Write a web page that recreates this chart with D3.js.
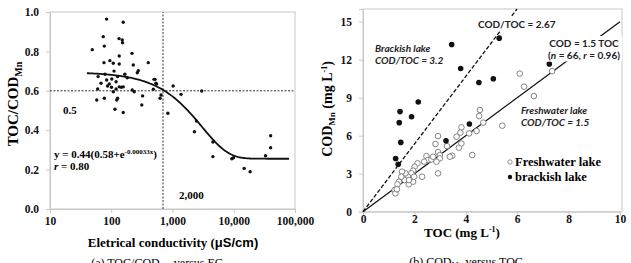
<!DOCTYPE html>
<html>
<head>
<meta charset="utf-8">
<script src="https://cdn.jsdelivr.net/npm/d3@7"></script>
<style>
  body { margin: 0; background: #fff; }
  svg { display: block; }
  .serif { font-family: "Liberation Serif", "DejaVu Serif", serif; font-weight: bold; }
  .sans { font-family: Lato, "Liberation Sans", sans-serif; font-weight: bold; }
</style>
</head>
<body>
<svg id="chart" width="631" height="263"></svg>
<script>
// (a) electrical conductivity vs TOC/COD ratio
var ecValues = [84, 157, 74, 134, 151, 153, 77, 49, 218, 135, 95, 76, 108, 135, 402, 229, 276, 266,
    111, 61, 79, 167, 182, 127, 84, 102, 68, 93, 120, 87, 101, 135, 146, 157, 60, 120, 108, 77,
    58, 127, 123, 220, 237, 325, 500, 536, 115, 157, 315, 487, 550, 518, 650, 626, 1025, 1380,
    3000, 840, 2460, 2280, 4570, 4570, 9300, 9900, 14800, 18500, 33000, 40000, 40000];
var ratioValues = [0.964, 0.948, 0.875, 0.865, 0.858, 0.844, 0.827, 0.809, 0.79, 0.777, 0.753, 0.743,
    0.74, 0.736, 0.743, 0.731, 0.702, 0.692, 0.70, 0.672, 0.684, 0.684, 0.666, 0.672, 0.655, 0.66,
    0.638, 0.635, 0.646, 0.624, 0.618, 0.62, 0.618, 0.62, 0.609, 0.609, 0.595, 0.562, 0.553, 0.562,
    0.553, 0.604, 0.595, 0.574, 0.658, 0.638, 0.506, 0.49, 0.528, 0.608, 0.634, 0.658, 0.579, 0.562,
    0.624, 0.582, 0.599, 0.486, 0.447, 0.392, 0.34, 0.266, 0.255, 0.26, 0.206, 0.189, 0.27, 0.311, 0.372];
var ecTicks = [10, 100, 1000, 10000, 100000];
var ecTickLabels = ["10", "100", "1,000", "10,000", "100,000"];
var ratioTicks = [0, 0.2, 0.4, 0.6, 0.8, 1.0];
// fitted curve y = a(b + e^(-kx)) as printed on the chart
var fitA = 0.44, fitB = 0.58, fitK = 0.00033;
var fitRange = [40, 80000];
var ratioCut = 0.6, ecCut = 700;

// (b) TOC vs COD
var freshTOC = [6.1, 6.27, 7.36, 6.65, 5.42, 4.55, 4.52, 4.68, 4.42, 4.13, 3.83, 3.79, 3.64, 3.73, 3.83,
    3.47, 3.38, 4.25, 3.27, 2.92, 2.82, 2.92, 2.99, 2.99, 2.86, 2.92, 2.47, 2.53, 2.38, 2.3, 2.12,
    2.01, 1.95, 1.88, 1.75, 1.65, 1.62, 1.52, 1.49, 1.4, 1.34, 1.78, 1.95, 1.79, 1.99, 1.23, 1.26,
    2.66, 2.73, 1.32];
var freshCOD = [10.9, 9.87, 11.1, 9.13, 6.79, 8.03, 7.55, 7.03, 6.37, 6.18, 6.66, 6.24, 5.92, 5.05, 5.39,
    4.42, 4.34, 4.47, 5.18, 5.97, 5.34, 4.71, 4.47, 4.21, 3.95, 3.03, 4.39, 4.08, 3.95, 2.76, 3.82,
    3.55, 3.24, 3.03, 2.76, 3.03, 2.5, 3.16, 2.76, 2.37, 2.16, 2.16, 2.37, 2.5, 2.76, 1.71, 1.45,
    4.13, 4.34, 1.77];
var brackTOC = [1.27, 1.37, 1.44, 1.41, 1.47, 1.89, 2.15, 3.23, 3.45, 3.8, 4.14, 4.51, 5.07, 5.3, 7.25];
var brackCOD = [4.2, 3.74, 7.9, 7.03, 5.47, 7.5, 8.66, 5.6, 13.2, 11.3, 6.92, 10.2, 10.5, 13.7, 11.66];
var tocTicks = [0, 2, 4, 6, 8, 10];
var codTicks = [0, 3, 6, 9, 12, 15];
var brackSlope = 2.67, freshSlope = 1.5;

var svg = d3.select("#chart");
var frameColor = "#c8c8c8";
var tickFont = 11.5;

// ---------- panel (a) ----------
var xA = d3.scaleLog().domain([10, 100000]).range([50, 295]);
var yA = d3.scaleLinear().domain([0, 1]).range([209, 12]);

var gA = svg.append("g");
gA.append("rect")
    .attr("x", xA.range()[0]).attr("y", yA.range()[1])
    .attr("width", xA.range()[1] - xA.range()[0])
    .attr("height", yA.range()[0] - yA.range()[1])
    .attr("fill", "none").attr("stroke", frameColor);

gA.append("g")
    .attr("transform", "translate(0," + yA.range()[0] + ")")
    .call(d3.axisBottom(xA).tickValues(ecTicks).tickSize(4)
        .tickFormat((d, i) => ecTickLabels[i]))
    .call(g => g.select(".domain").attr("stroke", frameColor))
    .call(g => g.selectAll("line").attr("stroke", frameColor))
    .call(g => g.selectAll("text").attr("class", "serif").attr("font-size", tickFont)
        .attr("fill", "#111").attr("y", 8).attr("dy", "0.71em"));

gA.append("g")
    .attr("transform", "translate(" + xA.range()[0] + ",0)")
    .call(d3.axisLeft(yA).tickValues(ratioTicks).tickSize(4).tickFormat(d3.format(".1f")))
    .call(g => g.select(".domain").attr("stroke", frameColor))
    .call(g => g.selectAll("line").attr("stroke", frameColor))
    .call(g => g.selectAll("text").attr("class", "serif").attr("font-size", tickFont)
        .attr("fill", "#111").attr("x", -11));

// dotted guides
gA.append("line")
    .attr("x1", xA.range()[0]).attr("x2", xA.range()[1])
    .attr("y1", yA(ratioCut)).attr("y2", yA(ratioCut))
    .attr("stroke", "#333").attr("stroke-width", 1).attr("stroke-dasharray", "2,1.5");
gA.append("line")
    .attr("x1", xA(ecCut)).attr("x2", xA(ecCut))
    .attr("y1", yA(0)).attr("y2", yA(1))
    .attr("stroke", "#333").attr("stroke-width", 1).attr("stroke-dasharray", "2,1.5");

// fitted curve
var fitPts = d3.range(0, 201).map(function (i) {
    var x = Math.pow(10, Math.log10(fitRange[0]) + i / 200 * (Math.log10(fitRange[1]) - Math.log10(fitRange[0])));
    return [x, fitA * (fitB + Math.exp(-fitK * x))];
});
gA.append("path")
    .datum(fitPts)
    .attr("d", d3.line().x(d => xA(d[0])).y(d => yA(d[1])))
    .attr("fill", "none").attr("stroke", "#111").attr("stroke-width", 1.8);

gA.selectAll("circle.pt")
    .data(ecValues.map((d, i) => [d, ratioValues[i]]))
    .enter().append("circle")
    .attr("class", "pt")
    .attr("cx", d => xA(d[0])).attr("cy", d => yA(d[1]))
    .attr("r", 1.7).attr("fill", "#111");

gA.append("text").attr("class", "serif").attr("font-size", 11)
    .attr("x", 63).attr("y", 114).text("0.5");
gA.append("text").attr("class", "serif").attr("font-size", 11)
    .attr("x", 179).attr("y", 199).text("2,000");

var eq = gA.append("text").attr("class", "serif").attr("font-size", 11)
    .attr("x", 54).attr("y", 158);
eq.append("tspan").text("y = 0.44(0.58+e");
eq.append("tspan").attr("font-size", 7).attr("dy", -4).text("-0.00033x");
eq.append("tspan").attr("dy", 4).text(")");
var rA = gA.append("text").attr("class", "serif").attr("font-size", 11)
    .attr("x", 54).attr("y", 170);
rA.append("tspan").attr("font-style", "italic").text("r");
rA.append("tspan").text(" = 0.80");

var ytA = gA.append("text").attr("class", "serif").attr("font-size", 15)
    .attr("text-anchor", "middle")
    .attr("transform", "translate(18,104) rotate(-90)");
ytA.append("tspan").text("TOC/COD");
ytA.append("tspan").attr("font-size", 10).attr("dy", 4).text("Mn");

var xtA = gA.append("text").attr("class", "serif").attr("font-size", 13)
    .attr("text-anchor", "middle").attr("x", 173).attr("y", 247);
xtA.append("tspan").text("Eletrical conductivity (");
xtA.append("tspan").attr("font-family", "'Liberation Sans', Arial, sans-serif").text("μS/cm)");

var capA = gA.append("text").attr("font-family", "'Liberation Serif', serif").attr("font-size", 12)
    .attr("text-anchor", "middle").attr("x", 157).attr("y", 267);
capA.append("tspan").text("(a)  TOC/COD");
capA.append("tspan").attr("font-size", 8).attr("dy", 2).text("Mn");
capA.append("tspan").attr("dy", -2).text("  versus  EC");

// ---------- panel (b) ----------
var xB = d3.scaleLinear().domain([0, 10]).range([363, 620]);
var yB = d3.scaleLinear().domain([0, 16]).range([211.7, 9]);

var gB = svg.append("g");
gB.append("rect")
    .attr("x", xB.range()[0]).attr("y", yB.range()[1])
    .attr("width", xB.range()[1] - xB.range()[0] + 2)
    .attr("height", yB.range()[0] - yB.range()[1])
    .attr("fill", "none").attr("stroke", frameColor);

gB.append("g")
    .attr("transform", "translate(0," + yB.range()[0] + ")")
    .call(d3.axisBottom(xB).tickValues(tocTicks).tickSize(4))
    .call(g => g.select(".domain").attr("stroke", frameColor))
    .call(g => g.selectAll("line").attr("stroke", frameColor))
    .call(g => g.selectAll("text").attr("class", "serif").attr("font-size", tickFont)
        .attr("fill", "#111").attr("y", 3).attr("dy", "0.71em"));

gB.append("g")
    .attr("transform", "translate(" + xB.range()[0] + ",0)")
    .call(d3.axisLeft(yB).tickValues(codTicks).tickSize(4))
    .call(g => g.select(".domain").attr("stroke", frameColor))
    .call(g => g.selectAll("line").attr("stroke", frameColor))
    .call(g => g.selectAll("text").attr("class", "serif").attr("font-size", tickFont)
        .attr("fill", "#111").attr("x", -11));

// ratio lines
gB.append("line")
    .attr("x1", xB(0)).attr("y1", yB(0))
    .attr("x2", xB(yB.domain()[1] / brackSlope)).attr("y2", yB(yB.domain()[1]))
    .attr("stroke", "#111").attr("stroke-width", 1.3).attr("stroke-dasharray", "4,2");
gB.append("line")
    .attr("x1", xB(0)).attr("y1", yB(0))
    .attr("x2", xB(10)).attr("y2", yB(10 * freshSlope))
    .attr("stroke", "#111").attr("stroke-width", 1.3);

gB.selectAll("circle.fresh")
    .data(freshTOC.map((d, i) => [d, freshCOD[i]]))
    .enter().append("circle")
    .attr("class", "fresh")
    .attr("cx", d => xB(d[0])).attr("cy", d => yB(d[1]))
    .attr("r", 2.8).attr("fill", "#fff").attr("stroke", "#777").attr("stroke-width", 0.9);

gB.selectAll("circle.brack")
    .data(brackTOC.map((d, i) => [d, brackCOD[i]]))
    .enter().append("circle")
    .attr("class", "brack")
    .attr("cx", d => xB(d[0])).attr("cy", d => yB(d[1]))
    .attr("r", 2.8).attr("fill", "#111");

// annotations (text boxes with white fill hide the lines behind them)
var note = function (x, y, lines, anchor, boxed) {
    var g = gB.append("g");
    var texts = lines.map(function (parts, li) {
        var t = g.append("text").attr("class", "sans").attr("font-size", 10)
            .attr("fill", "#222").attr("x", x).attr("y", y + li * 11.5)
            .attr("text-anchor", anchor || "start");
        parts.forEach(function (p) {
            t.append("tspan").attr("font-style", p[1] ? "italic" : null).text(p[0]);
        });
        return t;
    });
    if (boxed) {
        var boxes = texts.map(t => t.node().getBBox());
        var x0 = d3.min(boxes, b => b.x) - 2, x1 = d3.max(boxes, b => b.x + b.width) + 2;
        var y0 = d3.min(boxes, b => b.y) - 1, y1 = d3.max(boxes, b => b.y + b.height) + 1;
        g.insert("rect", "text").attr("x", x0).attr("y", y0)
            .attr("width", x1 - x0).attr("height", y1 - y0).attr("fill", "#fff");
    }
};
note(478, 28, [[["COD/TOC = 2.67"]]], "start", true);
note(375, 52, [[["Brackish lake", true]], [["COD/TOC = 3.2", true]]]);
note(584, 47, [[["COD = 1.5 TOC"]], [["("], ["n", true], [" = 66, "], ["r", true], [" = 0.96)"]]], "middle", true);
note(521, 114, [[["Freshwater lake", true]], [["COD/TOC = 1.5", true]]]);

// legend
gB.append("circle").attr("cx", 510).attr("cy", 162).attr("r", 2.2)
    .attr("fill", "#fff").attr("stroke", "#777").attr("stroke-width", 0.8);
gB.append("text").attr("class", "serif").attr("font-size", 12.5)
    .attr("x", 515).attr("y", 166).text("Freshwater lake");
gB.append("circle").attr("cx", 510).attr("cy", 177).attr("r", 2.2).attr("fill", "#111");
gB.append("text").attr("class", "serif").attr("font-size", 12.5)
    .attr("x", 515).attr("y", 181).text("brackish lake");

var ytB = gB.append("text").attr("class", "serif").attr("font-size", 14)
    .attr("text-anchor", "middle")
    .attr("transform", "translate(332,109) rotate(-90)");
ytB.append("tspan").text("COD");
ytB.append("tspan").attr("font-size", 9).attr("dy", 3).text("Mn");
ytB.append("tspan").attr("dy", -3).text(" (mg L");
ytB.append("tspan").attr("font-size", 8).attr("dy", -5).text("-1");
ytB.append("tspan").attr("dy", 5).text(")");

var xtB = gB.append("text").attr("class", "serif").attr("font-size", 13)
    .attr("text-anchor", "middle").attr("x", 462).attr("y", 237);
xtB.append("tspan").text("TOC (mg L");
xtB.append("tspan").attr("font-size", 8).attr("dy", -5).text("-1");
xtB.append("tspan").attr("dy", 5).text(")");

var capB = gB.append("text").attr("font-family", "'Liberation Serif', serif").attr("font-size", 12)
    .attr("text-anchor", "middle").attr("x", 466).attr("y", 266);
capB.append("tspan").text("(b)  COD");
capB.append("tspan").attr("font-size", 8).attr("dy", 2).text("Mn");
capB.append("tspan").attr("dy", -2).text("  versus  TOC");
</script>
</body>
</html>
